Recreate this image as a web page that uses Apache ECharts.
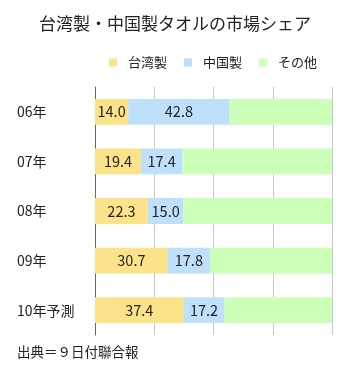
<!DOCTYPE html>
<html><head><meta charset="utf-8">
<script src="https://cdn.jsdelivr.net/npm/echarts@6/dist/echarts.min.js"></script>
<style>html,body{margin:0;padding:0;background:#fff;}#c{width:350px;height:372px;}</style>
</head><body><div id="c"></div>
<script>
var categories = ['06年', '07年', '08年', '09年', '10年予測'];
var taiwan = [14.0, 19.4, 22.3, 30.7, 37.4];
var china = [42.8, 17.4, 15.0, 17.8, 17.2];
var other = [43.2, 63.2, 62.7, 51.5, 45.4];
var seriesNames = ['台湾製', '中国製', 'その他'];
var ticks = [0, 25, 50, 75, 100];

var FONT = '"Noto Sans CJK JP", sans-serif';
var chart = echarts.init(document.getElementById('c'), null, {renderer: 'canvas'});
var lbl = {show: true, position: 'inside', color: '#222', fontSize: 14.5, fontFamily: FONT,
  formatter: function (p) { return p.value.toFixed(1); }};
chart.setOption({
  animation: false,
  backgroundColor: '#fff',
  title: {text: '台湾製・中国製タオルの市場シェア', left: 'center', top: 10,
    textStyle: {fontSize: 17, fontWeight: 'normal', color: '#222', fontFamily: FONT}},
  legend: {data: seriesNames, top: 51, left: 104, itemWidth: 8, itemHeight: 8, itemGap: 17,
    icon: 'rect',
    textStyle: {fontSize: 13, color: '#222', fontFamily: FONT, padding: [0, 0, 0, 6]}},
  grid: {left: 95, right: 18, top: 87, bottom: 37},
  xAxis: {type: 'value', min: ticks[0], max: ticks[ticks.length - 1], interval: 25,
    axisLabel: {show: false}, axisLine: {show: false}, axisTick: {show: false},
    splitLine: {show: true, lineStyle: {color: '#c8c8c8'}}},
  yAxis: {type: 'category', data: categories, inverse: true,
    axisLine: {show: true, lineStyle: {color: '#666'}}, axisTick: {show: false},
    axisLabel: {align: 'left', margin: 78, fontSize: 14, color: '#222', fontFamily: FONT}},
  series: [
    {name: seriesNames[0], type: 'bar', stack: 's', data: taiwan, barCategoryGap: '48%',
      itemStyle: {color: '#FCE38A'}, label: lbl},
    {name: seriesNames[1], type: 'bar', stack: 's', data: china,
      itemStyle: {color: '#BEE0FB'}, label: lbl},
    {name: seriesNames[2], type: 'bar', stack: 's', data: other,
      itemStyle: {color: '#CCFFB8'}, label: {show: false}}
  ],
  graphic: [{type: 'text', left: 17, top: 345,
    style: {text: '出典＝９日付聯合報', fontSize: 13.5, fill: '#222', fontFamily: FONT}}]
});
</script></body></html>
